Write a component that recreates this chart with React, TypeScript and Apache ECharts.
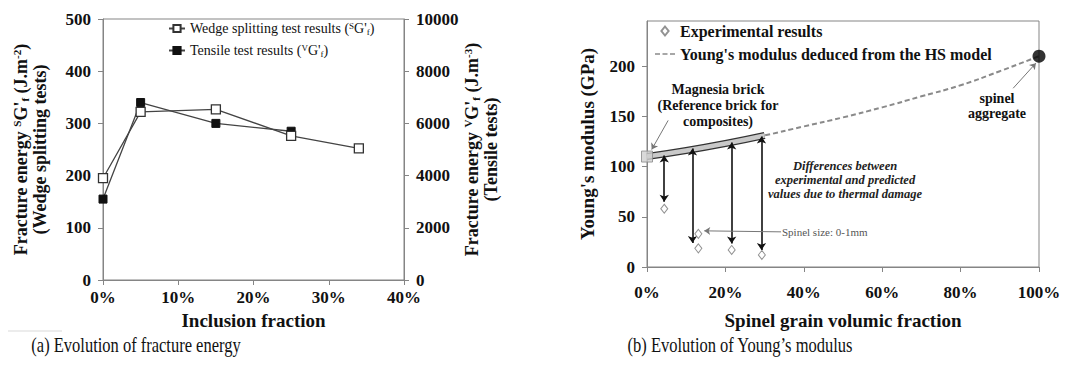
import React, { useEffect, useRef } from 'react';
import * as echarts from 'echarts';

// ---- (a) Fracture energy ----
const inclusionX = [0, 5, 15, 25, 34];
const wedgeValues = [195, 322, 327, 276, 252];
const tensileX = [0, 5, 15, 25];
const tensileValues = [3100, 6800, 6000, 5700];

// ---- (b) Young's modulus ----
const expX = [4.4, 13.1, 13.1, 21.6, 29.3];
const expY = [58, 33, 18.6, 17, 12];
const hsX = [0, 10, 20, 30, 40, 50, 60, 70, 80, 90, 100];
const hsY = [110, 116, 123, 131, 140, 149, 159, 170, 181, 195, 210];
const bandMaxX = 30;
const magnesiaPoint = [0, 110];
const spinelPoint = [100, 210];
const diffArrowX = [4.4, 11.6, 21.6, 29.2];
const diffArrowTop = [111, 118, 124, 130];
const diffArrowBottom = [65, 24, 23.5, 17];
const pointerFrom = [[5.4, 146], [34.2, 35], [93.4, 178]];
const pointerTo = [[1.2, 117], [14.6, 36], [99.2, 203]];

const FONT = "'Liberation Serif', 'Times New Roman', serif";
const INK = '#111';
const AXIS = '#858585';

const richBase = (size: number, weight: string, color = INK) => ({
  b: { fontSize: size, fontWeight: weight, fontFamily: FONT, color, lineHeight: size + 1 },
  sup: { fontSize: Math.round(size * 0.62), fontWeight: weight, fontFamily: FONT, color, verticalAlign: 'top', lineHeight: Math.round(size * 0.62) },
  sub: { fontSize: Math.round(size * 0.62), fontWeight: weight, fontFamily: FONT, color, verticalAlign: 'bottom', lineHeight: Math.round(size * 0.62) },
});

export default function App() {
  const ref = useRef<HTMLDivElement>(null);
  useEffect(() => {
    if (!ref.current) return;
    const chart = echarts.init(ref.current, undefined, { renderer: 'svg' });
    const pct = (v: number) => `${v}%`;
    const plain = (v: number) => String(v);
    const axisCommon = {
      axisLine: { show: true, lineStyle: { color: AXIS, width: 1 } },
      axisTick: { show: true, length: 5, lineStyle: { color: AXIS } },
      splitLine: { show: false },
      axisLabel: { fontFamily: FONT, fontWeight: 'bold', fontSize: 17, color: INK },
    };
    const option: any = {
      animation: false,
      textStyle: { fontFamily: FONT },
      grid: [
        { left: 103, top: 19, width: 301, height: 261, show: true, borderColor: AXIS, borderWidth: 1 },
        { left: 647, top: 21, width: 392, height: 246, show: true, borderColor: AXIS, borderWidth: 1 },
      ],
      xAxis: [
        {
          ...axisCommon, gridIndex: 0, type: 'value', min: 0, max: 40, interval: 10,
          axisLabel: { ...axisCommon.axisLabel, formatter: pct, margin: 9 },
          name: 'Inclusion fraction', nameLocation: 'middle', nameGap: 25,
          nameTextStyle: { fontFamily: FONT, fontWeight: 'bold', fontSize: 19, color: INK },
        },
        {
          ...axisCommon, gridIndex: 1, type: 'value', min: 0, max: 100, interval: 20,
          axisLabel: { ...axisCommon.axisLabel, formatter: pct, margin: 17 },
          name: 'Spinel grain volumic fraction', nameLocation: 'middle', nameGap: 44,
          nameTextStyle: { fontFamily: FONT, fontWeight: 'bold', fontSize: 19, color: INK },
        },
      ],
      yAxis: [
        {
          ...axisCommon, gridIndex: 0, type: 'value', min: 0, max: 500, interval: 100,
          axisLabel: { ...axisCommon.axisLabel, margin: 12, formatter: plain },
          name: "{b|Fracture energy }{sup|S}{b|G'}{sub|f}{b| (J.m}{sup|-2}{b|)}\n{b|(Wedge splitting tests)}",
          nameLocation: 'middle', nameGap: 54, nameRotate: 90,
          nameTextStyle: { fontFamily: FONT, fontWeight: 'bold', fontSize: 18, color: INK, lineHeight: 19, rich: richBase(18, 'bold') },
        },
        {
          ...axisCommon, gridIndex: 0, type: 'value', position: 'right', min: 0, max: 10000, interval: 2000,
          axisLabel: { ...axisCommon.axisLabel, margin: 12, formatter: plain },
          name: "{b|Fracture energy }{sup|V}{b|G'}{sub|f}{b| (J.m}{sup|-3}{b|)}\n{b|(Tensile tests)}",
          nameLocation: 'middle', nameGap: 56, nameRotate: 90,
          nameTextStyle: { fontFamily: FONT, fontWeight: 'bold', fontSize: 18, color: INK, lineHeight: 19, rich: richBase(18, 'bold') },
        },
        {
          ...axisCommon, gridIndex: 1, type: 'value', min: 0, max: 245, interval: 50,
          axisLabel: { ...axisCommon.axisLabel, margin: 12, showMaxLabel: false, formatter: plain },
          name: "Young's modulus (GPa)", nameLocation: 'middle', nameGap: 50, nameRotate: 90,
          nameTextStyle: { fontFamily: FONT, fontWeight: 'bold', fontSize: 19, color: INK },
        },
      ],
      legend: [
        {
          data: ['wedge', 'tensile'], orient: 'vertical', left: 168, top: 21, itemGap: 7,
          itemWidth: 16, itemHeight: 9, padding: 0,
          formatter: (n: string) => n === 'wedge'
            ? "{b|Wedge splitting test results (}{sup|S}{b|G'}{sub|f}{b|)}"
            : "{b|Tensile test results (}{sup|V}{b|G'}{sub|f}{b|)}",
          textStyle: { fontFamily: FONT, fontSize: 14, color: INK, rich: richBase(14, 'normal') },
        },
        {
          data: [
            { name: 'Experimental results', icon: 'path://M0,-5L4,0L0,5L-4,0Z', symbolKeepAspect: true },
            { name: "Young's modulus deduced from the HS model", icon: 'path://M0,0h5v1.6h-5zM7.5,0h5v1.6h-5zM15,0h5v1.6h-5z', symbolKeepAspect: true },
          ],
          orient: 'vertical', symbolKeepAspect: true,
          left: 655, top: 23, itemGap: 7, itemWidth: 20, itemHeight: 9, padding: 0,
          textStyle: { fontFamily: FONT, fontSize: 16, fontWeight: 'bold', color: INK },
        },
      ],
      series: [
        {
          name: 'wedge', type: 'line', xAxisIndex: 0, yAxisIndex: 0,
          data: inclusionX.map((x, i) => [x, wedgeValues[i]]),
          symbol: 'rect', symbolSize: 9, z: 4,
          lineStyle: { color: '#444', width: 1.3 },
          itemStyle: { color: '#fff', borderColor: '#333', borderWidth: 1.3 },
        },
        {
          name: 'tensile', type: 'line', xAxisIndex: 0, yAxisIndex: 1,
          data: tensileX.map((x, i) => [x, tensileValues[i]]),
          symbol: 'rect', symbolSize: 8, z: 3,
          lineStyle: { color: '#444', width: 1.3 },
          itemStyle: { color: '#111', borderColor: '#111', borderWidth: 1 },
        },
        {
          name: "Young's modulus deduced from the HS model", type: 'line', xAxisIndex: 1, yAxisIndex: 2,
          data: hsX.map((x, i) => [x, hsY[i]]), symbol: 'none', smooth: true,
          lineStyle: { color: '#8a8a8a', width: 2, type: [5, 3] },
          itemStyle: { color: '#8a8a8a' },
        },
        {
          name: 'bandOutline', type: 'line', xAxisIndex: 1, yAxisIndex: 2, silent: true,
          data: hsX.filter((x) => x <= bandMaxX).map((x) => [x, hsY[hsX.indexOf(x)]]),
          symbol: 'none', smooth: true, lineStyle: { color: '#333', width: 7 }, z: 3,
        },
        {
          name: 'bandFill', type: 'line', xAxisIndex: 1, yAxisIndex: 2, silent: true,
          data: hsX.filter((x) => x <= bandMaxX).map((x) => [x, hsY[hsX.indexOf(x)]]),
          symbol: 'none', smooth: true, lineStyle: { color: '#c9c9c9', width: 4.5 }, z: 4,
        },
        {
          name: 'arrows', type: 'lines', coordinateSystem: 'cartesian2d', xAxisIndex: 1, yAxisIndex: 2,
          symbol: ['arrow', 'arrow'], symbolSize: 7, silent: true, z: 5,
          lineStyle: { color: '#111', width: 1.6, opacity: 1 },
          data: diffArrowX.map((x, i) => ({ coords: [[x, diffArrowTop[i]], [x, diffArrowBottom[i]]] })),
        },
        {
          name: 'pointers', type: 'lines', coordinateSystem: 'cartesian2d', xAxisIndex: 1, yAxisIndex: 2,
          symbol: ['none', 'arrow'], symbolSize: 6, silent: true, z: 5,
          lineStyle: { color: '#777', width: 1, opacity: 1 },
          data: pointerFrom.map((p, i) => ({ coords: [p, pointerTo[i]] })),
        },
        {
          name: 'Experimental results', type: 'scatter', xAxisIndex: 1, yAxisIndex: 2,
          data: expX.map((x, i) => [x, expY[i]]), symbol: 'diamond', symbolSize: [7, 9], z: 6,
          itemStyle: { color: '#fff', borderColor: '#777', borderWidth: 1 },
        },
        {
          name: 'magnesia', type: 'scatter', xAxisIndex: 1, yAxisIndex: 2, clip: false,
          data: [magnesiaPoint], symbol: 'rect', symbolSize: 11, z: 7,
          itemStyle: { color: '#cfcfcf', borderColor: '#888', borderWidth: 1 },
        },
        {
          name: 'spinel', type: 'scatter', xAxisIndex: 1, yAxisIndex: 2, clip: false,
          data: [spinelPoint], symbol: 'circle', symbolSize: 13, z: 7,
          itemStyle: { color: '#000' },
        },
      ],
      graphic: [
        ...[['Magnesia brick', 89], ['(Reference brick for', 105], ['composites)', 121]].map(([t, y]) => ({
          type: 'text', x: 718, y: y as number,
          style: { text: t, fontFamily: FONT, fontSize: 14, fontWeight: 'bold', fill: INK, align: 'center', verticalAlign: 'middle' },
        })),
        ...[['spinel', 98], ['aggregate', 113]].map(([t, y]) => ({
          type: 'text', x: 997, y: y as number,
          style: { text: t, fontFamily: FONT, fontSize: 14, fontWeight: 'bold', fill: INK, align: 'center', verticalAlign: 'middle' },
        })),
        ...[['Differences between', 166], ['experimental and predicted', 180], ['values due to thermal damage', 194]].map(([t, y]) => ({
          type: 'text', x: 845, y: y as number,
          style: { text: t, fontFamily: FONT, fontSize: 12.5, fontWeight: 'bold', fontStyle: 'italic', fill: '#222', align: 'center', verticalAlign: 'middle' },
        })),
        {
          type: 'text', x: 782, y: 232,
          style: { text: 'Spinel size: 0-1mm', fontFamily: FONT, fontSize: 11, fill: '#555', align: 'left', verticalAlign: 'middle' },
        },
        {
          type: 'text', x: 136, y: 345, scaleY: 1.25,
          style: { text: '(a) Evolution of fracture energy', fontFamily: FONT, fontSize: 16.5, fill: INK, align: 'center', verticalAlign: 'middle' },
        },
        {
          type: 'text', x: 740, y: 345, scaleY: 1.25,
          style: { text: "(b) Evolution of Young\u2019s modulus", fontFamily: FONT, fontSize: 16.5, fill: INK, align: 'center', verticalAlign: 'middle' },
        },
        {
          type: 'line', shape: { x1: 8, y1: 331, x2: 62, y2: 331 }, style: { stroke: '#ececec', lineWidth: 2 },
        },
      ],
    };
    chart.setOption(option);
    return () => chart.dispose();
  }, []);
  return <div ref={ref} style={{ position: 'fixed', left: 0, top: 0, width: 1072, height: 376, background: '#fff' }} />;
}
